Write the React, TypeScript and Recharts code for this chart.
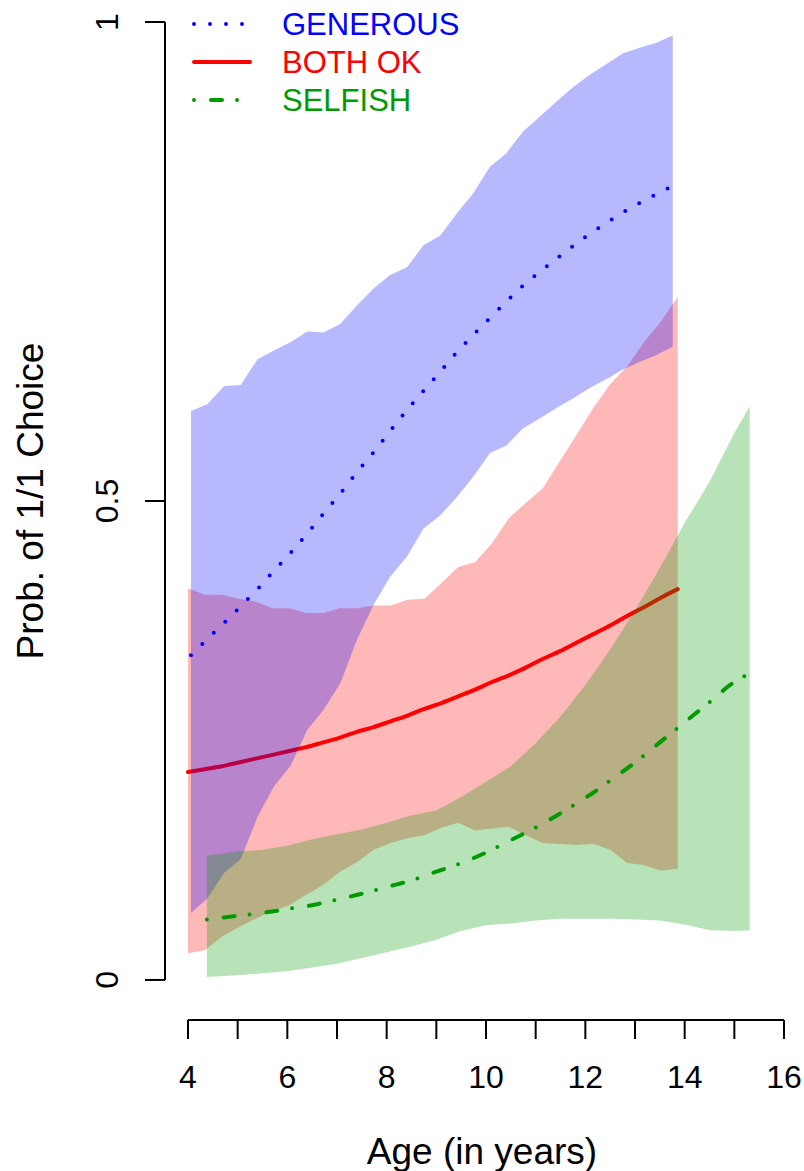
import { Area, ComposedChart, Legend, Line, ReferenceLine, XAxis, YAxis } from "recharts";

const generousAge = [4.06, 4.39, 4.73, 5.06, 5.4, 5.73, 6.07, 6.4, 6.73, 7.07, 7.4, 7.74, 8.07, 8.41, 8.74, 9.08, 9.41, 9.74, 10.08, 10.41, 10.75, 11.08, 11.42, 11.75, 12.09, 12.42, 12.75, 13.09, 13.42, 13.76];
const generousLow = [0.07, 0.085, 0.112, 0.126, 0.17, 0.202, 0.224, 0.261, 0.282, 0.31, 0.355, 0.392, 0.421, 0.442, 0.471, 0.485, 0.504, 0.525, 0.55, 0.558, 0.576, 0.586, 0.597, 0.607, 0.618, 0.627, 0.637, 0.645, 0.652, 0.661];
const generousHigh = [0.594, 0.601, 0.62, 0.621, 0.648, 0.657, 0.666, 0.677, 0.676, 0.685, 0.704, 0.722, 0.736, 0.744, 0.767, 0.777, 0.8, 0.821, 0.849, 0.863, 0.886, 0.901, 0.917, 0.932, 0.945, 0.956, 0.967, 0.973, 0.978, 0.986];
const generousFit = [0.339, 0.356, 0.373, 0.39, 0.408, 0.427, 0.446, 0.466, 0.487, 0.508, 0.53, 0.551, 0.573, 0.595, 0.615, 0.635, 0.655, 0.673, 0.691, 0.708, 0.725, 0.739, 0.753, 0.766, 0.779, 0.79, 0.801, 0.811, 0.82, 0.829];

const bothAge = [4.0, 4.34, 4.68, 5.02, 5.36, 5.7, 6.04, 6.38, 6.72, 7.06, 7.4, 7.74, 8.08, 8.42, 8.76, 9.1, 9.44, 9.78, 10.12, 10.46, 10.8, 11.14, 11.48, 11.82, 12.16, 12.5, 12.84, 13.18, 13.52, 13.86];
const bothLow = [0.028, 0.031, 0.045, 0.055, 0.064, 0.072, 0.078, 0.089, 0.099, 0.113, 0.123, 0.136, 0.143, 0.148, 0.151, 0.159, 0.164, 0.156, 0.158, 0.16, 0.151, 0.143, 0.142, 0.141, 0.142, 0.136, 0.122, 0.12, 0.114, 0.116];
const bothHigh = [0.409, 0.402, 0.402, 0.398, 0.395, 0.388, 0.388, 0.383, 0.383, 0.388, 0.388, 0.391, 0.391, 0.397, 0.398, 0.414, 0.431, 0.436, 0.456, 0.482, 0.498, 0.513, 0.541, 0.569, 0.597, 0.622, 0.64, 0.666, 0.687, 0.713];
const bothFit = [0.217, 0.22, 0.223, 0.227, 0.231, 0.235, 0.239, 0.243, 0.248, 0.253, 0.259, 0.264, 0.27, 0.276, 0.283, 0.289, 0.296, 0.303, 0.311, 0.318, 0.326, 0.335, 0.343, 0.352, 0.361, 0.37, 0.38, 0.389, 0.399, 0.408];

const selfishAge = [4.38, 5.0, 5.5, 6.0, 6.5, 7.0, 7.5, 8.0, 8.5, 9.0, 9.5, 10.0, 10.5, 11.0, 11.5, 12.0, 12.5, 13.0, 13.5, 14.0, 14.5, 15.0, 15.31];
const selfishLow = [0.003, 0.005, 0.007, 0.009, 0.013, 0.017, 0.023, 0.029, 0.035, 0.042, 0.051, 0.057, 0.059, 0.062, 0.064, 0.064, 0.064, 0.063, 0.062, 0.058, 0.052, 0.051, 0.052];
const selfishHigh = [0.13, 0.134, 0.136, 0.14, 0.147, 0.152, 0.157, 0.164, 0.172, 0.177, 0.191, 0.207, 0.223, 0.247, 0.275, 0.308, 0.345, 0.386, 0.43, 0.477, 0.52, 0.571, 0.599];
const selfishFit = [0.063, 0.067, 0.07, 0.074, 0.078, 0.084, 0.09, 0.097, 0.104, 0.113, 0.122, 0.133, 0.146, 0.159, 0.174, 0.19, 0.208, 0.227, 0.248, 0.269, 0.29, 0.311, 0.32];

const ageTicks = [4, 5, 6, 7, 8, 9, 10, 11, 12, 13, 14, 15, 16];
const probTicks = [0, 0.5, 1];

const FONT = "'Liberation Sans', Arial, Helvetica, sans-serif";
const X_MIN = 3.537;
const X_MAX = 16.04;
const Y_MIN = -0.0418;

const BLUE = "#0000ff";
const RED = "#ff0000";
const GREEN = "#009900";
const DOTTED = "0 16";
const DOTDASH = "0 17 11 15";

const rows = (age: number[], low: number[], high: number[], fit: number[]) =>
  age.map((a, i) => ({ age: a, band: [low[i], high[i]], fit: fit[i] }));

const generousRows = rows(generousAge, generousLow, generousHigh, generousFit);
const bothRows = rows(bothAge, bothLow, bothHigh, bothFit);
const selfishRows = rows(selfishAge, selfishLow, selfishHigh, selfishFit);

const legendItems = [
  { name: "GENEROUS", color: BLUE, dash: DOTTED },
  { name: "BOTH OK", color: RED, dash: undefined },
  { name: "SELFISH", color: GREEN, dash: DOTDASH },
];

function XTick(props: any) {
  const { x, payload } = props;
  if (payload.value % 2 !== 0) return <g />;
  return (
    <text x={x} y={1088} textAnchor="middle" fontSize={32} fontFamily={FONT} fill="#000">
      {payload.value}
    </text>
  );
}

function YTick(props: any) {
  const { y, payload } = props;
  return (
    <text
      x={118}
      y={y}
      transform={`rotate(-90 118 ${y})`}
      textAnchor="middle"
      fontSize={32}
      fontFamily={FONT}
      fill="#000"
    >
      {String(payload.value)}
    </text>
  );
}

function AxisTitle({ ax, ay, txt, turn }: { ax: number; ay: number; txt: string; turn?: boolean }) {
  return (
    <text
      x={ax}
      y={ay}
      transform={turn ? `rotate(-90 ${ax} ${ay})` : undefined}
      textAnchor="middle"
      fontSize={37}
      fontFamily={FONT}
      fill="#000"
    >
      {txt}
    </text>
  );
}

function LegendBox() {
  return (
    <svg width={320} height={120} style={{ display: "block" }}>
      {legendItems.map((it, i) => (
        <g key={it.name}>
          <line
            x1={16}
            x2={72}
            y1={24 + 38 * i}
            y2={24 + 38 * i}
            stroke={it.color}
            strokeWidth={4}
            strokeLinecap="round"
            strokeDasharray={it.dash}
          />
          <text x={104} y={35 + 38 * i} fontSize={31} fontFamily={FONT} fill={it.color}>
            {it.name}
          </text>
        </g>
      ))}
    </svg>
  );
}

export default function App() {
  return (
    <div style={{ position: "absolute", left: 0, top: 0, width: 804, height: 1171, background: "#fff" }}>
      <ComposedChart width={804} height={1171} margin={{ top: 22, right: 18, bottom: 0, left: 85 }}>
        <XAxis
          dataKey="age"
          type="number"
          domain={[X_MIN, X_MAX]}
          allowDataOverflow
          ticks={ageTicks}
          interval={0}
          height={151}
          tickSize={19}
          axisLine={false}
          tickLine={{ stroke: "#000", strokeWidth: 2 }}
          tick={<XTick />}
          label={<AxisTitle ax={482} ay={1164} txt="Age (in years)" />}
        />
        <YAxis
          type="number"
          domain={[Y_MIN, 1]}
          allowDataOverflow
          ticks={probTicks}
          width={80}
          tickSize={20}
          axisLine={false}
          tickLine={{ stroke: "#000", strokeWidth: 2 }}
          tick={<YTick />}
          label={<AxisTitle ax={43} ay={501} txt="Prob. of 1/1 Choice" turn />}
        />
        <ReferenceLine
          segment={[{ x: 4, y: Y_MIN }, { x: 16, y: Y_MIN }]}
          stroke="#000"
          strokeWidth={2}
          ifOverflow="visible"
        />
        <ReferenceLine
          segment={[{ x: X_MIN, y: 0 }, { x: X_MIN, y: 1 }]}
          stroke="#000"
          strokeWidth={2}
          ifOverflow="visible"
        />
        <Legend
          layout="vertical"
          align="center"
          verticalAlign="middle"
          wrapperStyle={{ left: 178, top: 0, width: 320, height: 120 }}
          content={() => <LegendBox />}
        />

        <Area
          data={bothRows}
          dataKey="band"
          type="linear"
          stroke="none"
          fill={RED}
          fillOpacity={0.28}
          isAnimationActive={false}
          zIndex={100}
        />
        <Line
          data={bothRows}
          dataKey="fit"
          type="monotone"
          stroke={RED}
          strokeWidth={4}
          strokeLinecap="round"
          dot={false}
          isAnimationActive={false}
          zIndex={101}
        />
        <Area
          data={generousRows}
          dataKey="band"
          type="linear"
          stroke="none"
          fill={BLUE}
          fillOpacity={0.28}
          isAnimationActive={false}
          zIndex={102}
        />
        <Line
          data={generousRows}
          dataKey="fit"
          type="monotone"
          stroke={BLUE}
          strokeWidth={4}
          strokeLinecap="round"
          strokeDasharray={DOTTED}
          dot={false}
          isAnimationActive={false}
          zIndex={103}
        />
        <Area
          data={selfishRows}
          dataKey="band"
          type="linear"
          stroke="none"
          fill={GREEN}
          fillOpacity={0.28}
          isAnimationActive={false}
          zIndex={104}
        />
        <Line
          data={selfishRows}
          dataKey="fit"
          type="monotone"
          stroke={GREEN}
          strokeWidth={4}
          strokeLinecap="round"
          strokeDasharray={DOTDASH}
          dot={false}
          isAnimationActive={false}
          zIndex={105}
        />
      </ComposedChart>
    </div>
  );
}
